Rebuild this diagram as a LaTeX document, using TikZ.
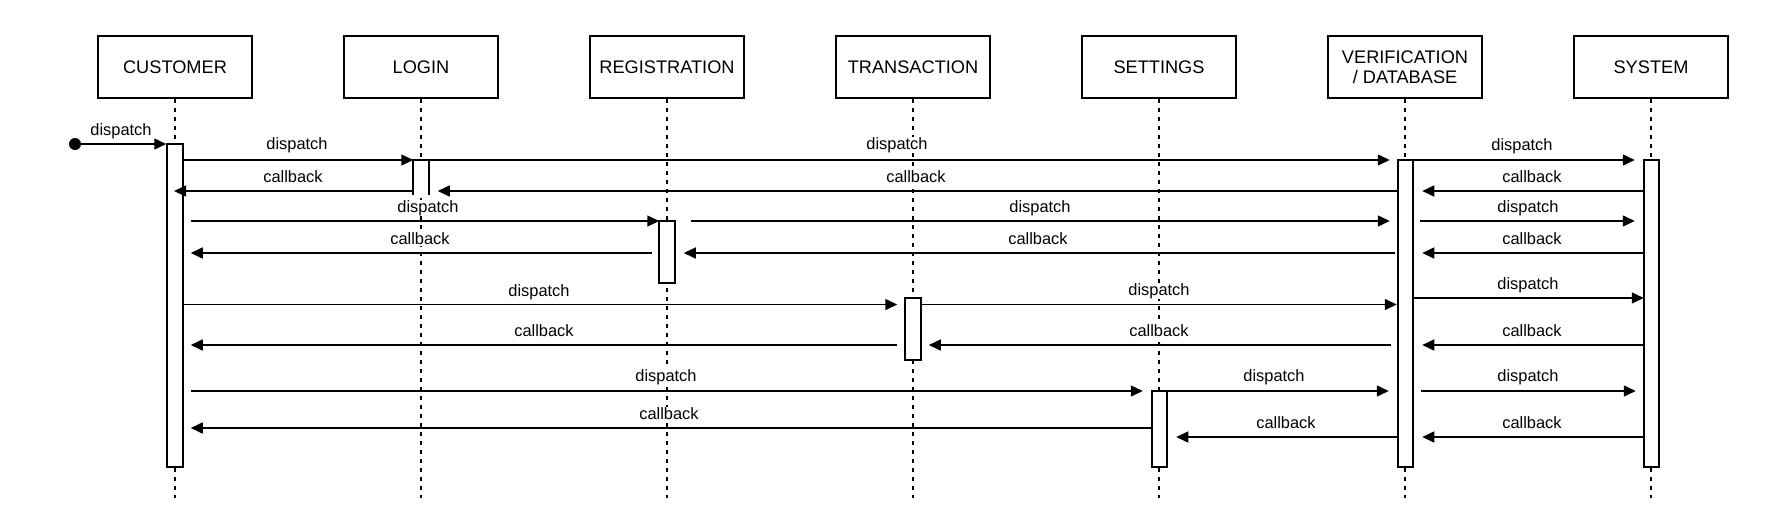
\documentclass[tikz,border=0pt]{standalone}
\usepackage{fontspec}
\setmainfont{Liberation Sans}
\usetikzlibrary{arrows.meta}
\begin{document}
\begin{tikzpicture}[x=1pt,y=-1pt,
  head/.style={draw, line width=1.5pt, minimum width=154pt, minimum height=62pt, inner sep=0pt, align=center,
    font=\fontsize{18.2pt}{20pt}\selectfont},
  life/.style={line width=1.4pt, dash pattern=on 4.5pt off 4.5pt},
  bar/.style={draw, fill=white, line width=1.6pt, minimum width=15.5pt, inner sep=0pt, outer sep=0pt},
  msg/.style={line width=1.5pt, -{Triangle[length=12pt,width=11pt]}},
  lbl/.style={fill=white, inner sep=0.6pt, font=\fontsize{16.4pt}{18pt}\selectfont}
]
\useasboundingbox (0,0) rectangle (1769,523);
\fill[white] (0,0) rectangle (1769,523);

% heads
\node[head] (cust) at (175,67) {CUSTOMER};
\node[head] (login) at (421,67) {LOGIN};
\node[head] (reg) at (667,67) {REGISTRATION};
\node[head] (trans) at (913,67) {TRANSACTION};
\node[head] (sett) at (1159,67) {SETTINGS};
\node[head] (veri) at (1405,67) {VERIFICATION\\/ DATABASE};
\node[head] (sys) at (1651,67) {SYSTEM};

% lifeline ends
\coordinate (bot) at (0,498);
\foreach \n in {cust,login,reg,trans,sett,veri,sys}
  \draw[life] (\n.south) -- (\n.south |- bot);

% activation bars
\node[bar, minimum height=323pt] (cb) at (175,305.5) {};
\node[fill=white, minimum width=15.5pt, minimum height=35pt, inner sep=0pt, outer sep=0pt] (lb) at (421,177.5) {};
\draw[line width=1.6pt] (lb.south west) -- (lb.north west) -- (lb.north east) -- (lb.south east);
\node[bar, minimum height=62pt] (rb) at (667,252) {};
\node[bar, minimum height=62pt] (tb) at (913,329) {};
\node[bar, minimum height=76pt] (sb) at (1159.5,429) {};
\node[bar, minimum height=307pt] (vb) at (1405.5,313.5) {};
\node[bar, minimum height=307pt] (yb) at (1651.5,313.5) {};

% row coordinates
\coordinate (y160) at (0,160);
\coordinate (y191) at (0,191);
\coordinate (y221) at (0,221);
\coordinate (y253) at (0,253);
\coordinate (y298) at (0,298);
\coordinate (y304) at (0,304.5);
\coordinate (y345) at (0,345);
\coordinate (y391) at (0,391);
\coordinate (y428) at (0,428);
\coordinate (y437) at (0,437);

% start
\node[circle, fill=black, minimum size=12pt, inner sep=0pt] (start) at (75,144) {};
\draw[msg, shorten >=1pt] (start) -- (start -| cb.west);
\node[lbl, fill=none] (l0) at (121,131) {dispatch};

% row 1
\draw[msg] (cb.east |- y160) -- (lb.west |- y160);
\draw[msg, shorten >=8pt] (lb.east |- y160) -- (vb.west |- y160);
\draw[msg, shorten >=9pt] (vb.east |- y160) -- (yb.west |- y160);
\node[lbl] (l1) at (297,145) {dispatch};
\node[lbl] (l2) at (897,145) {dispatch};
\node[lbl] (l3) at (1522,146) {dispatch};

\draw[msg, shorten >=-1pt] (lb.west |- y191) -- (cb.center |- y191);
\draw[msg, shorten >=9pt] (vb.west |- y191) -- (lb.east |- y191);
\draw[msg, shorten >=9pt] (yb.west |- y191) -- (vb.east |- y191);
\node[lbl] (l4) at (293,177) {callback};
\node[lbl] (l5) at (916,177) {callback};
\node[lbl] (l6) at (1532,177) {callback};

% row 2
\draw[msg, shorten <=8pt] (cb.east |- y221) -- (rb.west |- y221);
\draw[msg, shorten <=16pt, shorten >=8pt] (rb.east |- y221) -- (vb.west |- y221);
\draw[msg, shorten <=7pt, shorten >=9pt] (vb.east |- y221) -- (yb.west |- y221);
\node[lbl] (l7) at (428,208) {dispatch};
\node[lbl] (l8) at (1040,208) {dispatch};
\node[lbl] (l9) at (1528,208) {dispatch};

\draw[msg, shorten <=7pt, shorten >=8pt] (rb.west |- y253) -- (cb.east |- y253);
\draw[msg, shorten <=3pt, shorten >=9pt] (vb.west |- y253) -- (rb.east |- y253);
\draw[msg, shorten >=9pt] (yb.west |- y253) -- (vb.east |- y253);
\node[lbl] (l10) at (420,239) {callback};
\node[lbl] (l11) at (1038,239) {callback};
\node[lbl] (l12) at (1532,239) {callback};

% row 3
\draw[msg, shorten >=8pt] (cb.east |- y304) -- (tb.west |- y304);
\draw[msg, shorten >=1pt] (tb.east |- y304) -- (vb.west |- y304);
\draw[msg] (vb.east |- y298) -- (yb.west |- y298);
\node[lbl] (l13) at (539,292) {dispatch};
\node[lbl] (l14) at (1159,291) {dispatch};
\node[lbl] (l15) at (1528,285) {dispatch};

\draw[msg, shorten <=8pt, shorten >=8pt] (tb.west |- y345) -- (cb.east |- y345);
\draw[msg, shorten <=7pt, shorten >=8pt] (vb.west |- y345) -- (tb.east |- y345);
\draw[msg, shorten >=9pt] (yb.west |- y345) -- (vb.east |- y345);
\node[lbl] (l16) at (544,331) {callback};
\node[lbl] (l17) at (1159,331) {callback};
\node[lbl] (l18) at (1532,331) {callback};

% row 4
\draw[msg, shorten <=8pt, shorten >=9pt] (cb.east |- y391) -- (sb.west |- y391);
\draw[msg, shorten >=9pt] (sb.east |- y391) -- (vb.west |- y391);
\draw[msg, shorten <=8pt, shorten >=8pt] (vb.east |- y391) -- (yb.west |- y391);
\node[lbl] (l19) at (666,377) {dispatch};
\node[lbl] (l20) at (1274,377) {dispatch};
\node[lbl] (l21) at (1528,377) {dispatch};

\draw[msg, shorten >=8pt] (sb.west |- y428) -- (cb.east |- y428);
\draw[msg, shorten >=9pt] (vb.west |- y437) -- (sb.east |- y437);
\draw[msg, shorten >=9pt] (yb.west |- y437) -- (vb.east |- y437);
\node[lbl] (l22) at (669,414) {callback};
\node[lbl] (l23) at (1286,423) {callback};
\node[lbl] (l24) at (1532,423) {callback};
\end{tikzpicture}
\end{document}
